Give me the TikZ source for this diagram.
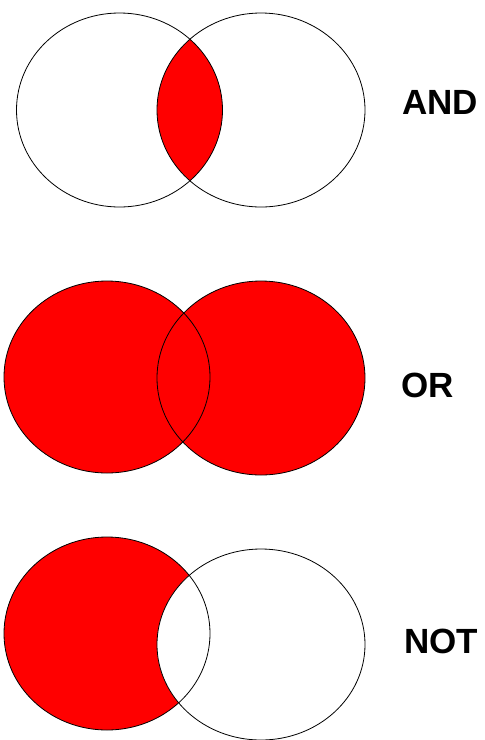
\documentclass[tikz,border=0pt]{standalone}
\usepackage{fontspec}
\setmainfont{Liberation Sans}
\usepackage{xcolor}
\definecolor{vennred}{HTML}{FF0000}
\usepackage{tikz}

\begin{document}
\begin{tikzpicture}[
            x=1pt,y=-1pt,
            setline/.style={draw=black, line width=0.8pt},
            setfill/.style={fill=vennred},
            oplabel/.style={font=\fontsize{35}{40}\selectfont\bfseries, inner sep=0pt}
        ]
            \useasboundingbox (0,0) rectangle (485,740);

            % AND
            \begin{scope}
                \clip (119.5,110) ellipse (103 and 97);
                \fill[setfill] (261,110) ellipse (104 and 97);
            \end{scope}
            \draw[setline] (119.5,110) ellipse (103 and 97);
            \draw[setline] (261,110) ellipse (104 and 97);
            \node[oplabel] (andlabel) at (440,102) {AND};

            % OR
            \fill[setfill] (107,377) ellipse (103 and 96);
            \fill[setfill] (261,378) ellipse (104 and 97);
            \draw[setline] (107,377) ellipse (103 and 96);
            \draw[setline] (261,378) ellipse (104 and 97);
            \node[oplabel] (orlabel) at (428,385) {OR};

            % NOT
            \fill[setfill] (107,633.5) ellipse (103 and 96.5);
            \fill[white] (261,644.5) ellipse (104 and 95.5);
            \draw[setline] (107,633.5) ellipse (103 and 96.5);
            \draw[setline] (261,644.5) ellipse (104 and 95.5);
            \node[oplabel] (notlabel) at (441,641) {NOT};
        \end{tikzpicture}
\end{document}
